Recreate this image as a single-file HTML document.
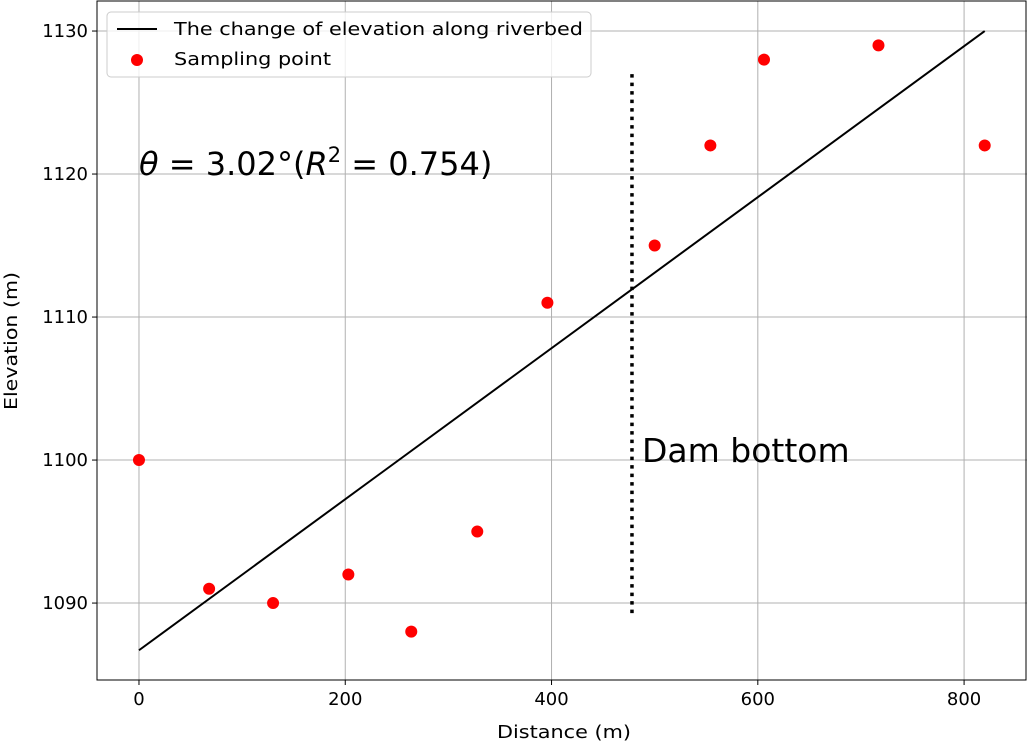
<!DOCTYPE html>
<html><head><meta charset="utf-8"><style>
body{margin:0;background:#fff}
svg{display:block;font-family:"DejaVu Sans","Liberation Sans",sans-serif}
</style></head><body>
<svg id="chart" width="1028" height="742"></svg>
<script>
const xTicks=[0,200,400,600,800];
const yTicks=[1090,1100,1110,1120,1130];
const distances=[0,68,130,203,264,328,396,500,554,606,717,820];
const elevations=[1100,1091,1090,1092,1088,1095,1111,1115,1122,1128,1129,1122];
const fitX=[0,820];
const fitY=[1086.7,1130];
const damX=[478];
const damY=[1089.3,1127.3];
const X0=97,X1=1027,Y0=1,Y1=680;
const xmin=-40.7,xmax=861,ymin=1084.62,ymax=1132.1;
const sx=v=>X0+(v-xmin)/(xmax-xmin)*(X1-X0);
const sy=v=>Y1-(v-ymin)/(ymax-ymin)*(Y1-Y0);
const svg=document.getElementById('chart');
const NS='http://www.w3.org/2000/svg';
function mk(t,a,txt){const e=document.createElementNS(NS,t);for(const k in a)e.setAttribute(k,a[k]);if(txt!=null)e.textContent=txt;svg.appendChild(e);return e;}
xTicks.forEach(v=>{
 const g=mk('line',{x1:sx(v),x2:sx(v),y1:Y0,y2:Y1,stroke:'#b0b0b0','stroke-width':1});
 
 
 mk('line',{x1:sx(v),x2:sx(v),y1:Y1,y2:Y1+5,stroke:'#000'});
 const t=mk('text',{x:sx(v),y:Y1+25,'text-anchor':'middle','font-size':18},v);
 
 
});
yTicks.forEach(v=>{
 const g=mk('line',{x1:X0,x2:X1,y1:sy(v),y2:sy(v),stroke:'#b0b0b0','stroke-width':1});
 
 
 mk('line',{x1:X0-5,x2:X0,y1:sy(v),y2:sy(v),stroke:'#000'});
 const t=mk('text',{x:X0-9,y:sy(v)+6,'text-anchor':'end','font-size':18},v);
 
 
});
const fit=mk('line',{x1:sx(fitX[0]),y1:sy(fitY[0]),x2:sx(fitX[1]),y2:sy(fitY[1]),stroke:'#000','stroke-width':2});


const dam=mk('line',{x1:sx(damX[0]),x2:sx(damX[0]),y1:sy(damY[0]),y2:sy(damY[1]),stroke:'#000','stroke-width':3.5,'stroke-dasharray':'3.5 5'});


distances.forEach((d,i)=>{
 const c=mk('circle',{cx:sx(d),cy:sy(elevations[i]),r:6,fill:'#ff0000'});
 
 
});
const fr=mk('rect',{x:X0,y:Y0,width:X1-X0-1,height:Y1-Y0,fill:'none',stroke:'#000','stroke-width':1});


const a1=mk('text',{x:139,y:175,'font-size':32},'');
a1.innerHTML='<tspan font-style="italic">θ</tspan> = 3.02°(<tspan font-style="italic">R</tspan><tspan dy="-13" font-size="21">2</tspan><tspan dy="13"> = 0.754)</tspan>';


const a2=mk('text',{x:642,y:462,'font-size':33},'Dam bottom');


const xl=mk('text',{x:497,y:738,'font-size':18,textLength:134,lengthAdjust:'spacingAndGlyphs'},'Distance (m)');


const yl=mk('text',{x:0,y:0,'font-size':18,textLength:138,lengthAdjust:'spacingAndGlyphs',transform:'translate(17 410) rotate(-90)'},'Elevation (m)');


const lg=mk('rect',{x:107,y:12,width:484,height:65,rx:4,fill:'#fff','fill-opacity':0.8,stroke:'#ccc'});


mk('line',{x1:117,x2:157,y1:29,y2:29,stroke:'#000','stroke-width':2});
const l1=mk('text',{x:174,y:35,'font-size':18,textLength:409,lengthAdjust:'spacingAndGlyphs'},'The change of elevation along riverbed');


mk('circle',{cx:137,cy:60,r:6,fill:'#ff0000'});
const l2=mk('text',{x:174,y:65,'font-size':18,textLength:157,lengthAdjust:'spacingAndGlyphs'},'Sampling point');


</script>
</body></html>
